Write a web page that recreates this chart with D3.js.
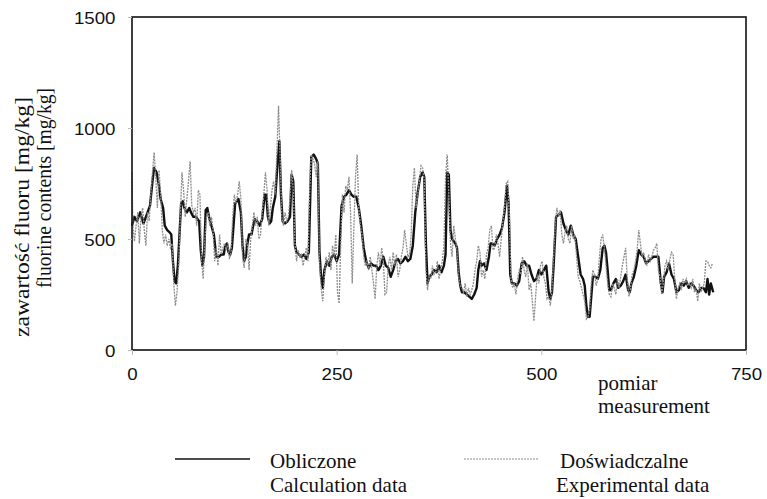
<!DOCTYPE html>
<html>
<head>
<meta charset="utf-8">
<title>fluorine contents</title>
<script src="https://d3js.org/d3.v7.min.js"></script>
<style>
  body { margin: 0; background: #fff; }
  .tick text { font-family: "Liberation Sans", Arial, sans-serif; font-size: 17px; fill: #111; }
  .serif { font-family: "Liberation Serif", "Times New Roman", serif; fill: #111; }
</style>
</head>
<body>
<svg id="chart" width="767" height="499"></svg>
<script>
// axis ticks
var xTicks = [0, 250, 500, 750];
var yTicks = [0, 500, 1000, 1500];

// Obliczone / Calculation data: measurement no. and value [mg/kg]
var calcM = [0,3,6,10,14,18,22,25,27,30,33,35,38,40,43,46,48,50,52,54,56,58,60,62,64,67,70,72,75,78,80,82,84,86,88,90,92,94,97,100,
  103,106,109,112,114,116,118,120,122,124,126,128,130,133,135,137,139,141,143,146,148,150,153,156,159,162,164,166,168,170,
  172,175,178,180,182,184,187,190,193,195,197,199,201,204,207,210,213,216,219,222,225,227,229,231,233,235,238,241,244,247,
  250,253,256,259,262,265,268,271,274,277,280,283,286,289,292,295,298,301,304,307,310,313,316,319,322,325,328,331,334,337,
  340,343,346,349,352,355,357,359,361,363,366,369,372,375,378,381,383,385,387,389,391,393,395,397,399,401,403,406,409,412,
  415,418,421,423,425,427,430,433,436,438,440,443,446,449,452,455,458,460,462,464,467,470,473,476,479,482,485,488,491,494,
  497,500,503,506,509,511,513,515,518,521,524,527,530,533,536,539,542,545,548,551,553,555,557,559,561,563,566,569,572,575,
  577,579,581,583,585,588,591,594,597,600,603,606,608,610,613,616,619,622,625,628,631,634,637,640,643,646,648,650,653,656,
  659,662,665,668,671,674,677,680,683,686,689,692,695,698,701,703,705,707,710];
var calcV = [560,600,580,620,570,610,650,760,820,800,740,680,640,560,540,530,520,400,310,300,380,520,660,670,640,620,640,620,600,600,590,580,450,380,420,630,640,600,560,520,
  420,420,430,430,470,480,440,430,460,560,660,670,680,620,470,400,420,480,520,520,560,590,580,560,590,700,700,600,570,580,
  640,690,850,940,700,580,570,580,600,790,760,470,440,430,420,430,410,440,870,880,860,840,440,330,280,360,400,380,420,430,
  400,430,650,690,700,720,700,690,690,640,560,460,400,370,390,380,380,360,380,420,380,370,330,360,400,410,390,400,420,400,
  410,470,620,710,780,800,780,480,300,330,340,360,350,380,350,380,430,800,790,540,500,490,480,460,350,290,260,260,250,240,
  230,250,280,360,400,380,390,360,420,480,480,470,500,520,550,620,740,660,340,300,300,290,310,390,400,380,380,340,310,320,
  360,340,360,380,260,230,260,380,600,610,620,570,540,520,560,520,500,420,340,320,290,200,150,150,240,330,330,320,360,460,
  470,440,360,270,270,300,320,280,290,310,340,270,260,300,330,380,450,430,420,390,400,410,420,420,420,300,260,330,350,390,
  340,320,260,270,300,290,310,280,300,290,270,260,280,280,260,320,250,300,260];

// Doświadczalne / Experimental data
var expM = [0,1,3,5,7,9,11,13,15,17,19,21,23,25,27,29,31,33,35,37,39,41,43,45,47,49,51,53,55,57,59,61,63,65,67,69,71,73,75,77,
  79,81,83,85,87,89,91,93,95,97,99,101,103,105,107,109,111,113,115,117,119,121,123,125,127,129,131,133,135,137,139,141,143,145,147,149,151,153,155,157,
  159,161,163,165,167,169,171,173,175,177,179,181,183,185,187,189,191,193,195,197,199,201,203,205,207,209,211,213,215,217,219,221,223,225,227,229,231,233,235,237,
  239,241,243,245,247,249,251,253,255,257,259,261,263,265,267,269,271,273,275,277,279,281,283,285,287,289,291,293,295,297,299,301,303,305,307,309,311,313,315,317,
  319,321,323,325,327,329,331,333,335,337,339,341,343,345,347,349,351,353,355,357,359,361,363,365,367,369,371,373,375,377,379,381,383,385,387,389,391,393,395,397,
  399,401,403,405,407,409,411,413,415,417,419,421,423,425,427,429,431,433,435,437,439,441,443,445,447,449,451,453,455,457,459,461,463,465,467,469,471,473,475,477,
  479,481,483,485,487,489,491,493,495,497,499,501,503,505,507,509,511,513,515,517,519,521,523,525,527,529,531,533,535,537,539,541,543,545,547,549,551,553,555,557,
  559,561,563,565,567,569,571,573,575,577,579,581,583,585,587,589,591,593,595,597,599,601,603,605,607,609,611,613,615,617,619,621,623,625,627,629,631,633,635,637,
  639,641,643,645,647,649,651,653,655,657,659,661,663,665,667,669,671,673,675,677,679,681,683,685,687,689,691,693,695,697,699,701,703,705,707,709];
var expV = [800,560,490,560,620,480,600,640,540,470,620,580,700,800,890,780,640,810,700,540,480,520,470,500,460,480,300,200,260,380,600,800,720,600,680,760,850,650,620,640,
  560,720,700,400,320,500,600,620,560,600,540,400,460,380,520,430,460,480,450,480,410,440,600,700,660,700,760,680,420,370,500,480,360,500,560,620,560,600,500,520,
  620,700,800,720,560,640,720,760,700,900,1100,860,600,560,620,580,600,680,810,720,480,400,450,420,430,380,420,460,400,720,880,860,840,780,850,400,280,220,330,420,
  380,440,360,470,420,520,260,210,480,700,620,740,720,780,620,300,550,780,880,640,560,520,420,380,400,360,420,360,300,230,380,440,380,460,400,250,260,380,420,360,
  440,380,430,330,360,420,460,540,480,420,430,520,740,820,640,700,760,830,820,760,360,270,340,320,380,340,350,400,320,360,400,470,780,880,700,480,420,560,500,450,
  330,290,280,260,300,240,280,250,270,300,360,400,470,440,330,360,320,430,460,540,560,450,460,520,480,420,500,580,640,750,760,600,320,280,300,250,320,360,340,420,
  360,330,390,270,300,220,130,240,340,300,380,400,330,300,230,240,200,280,420,560,640,600,630,520,480,530,560,500,480,560,500,520,420,330,310,280,250,220,140,150,
  180,300,360,340,290,320,420,500,520,460,380,300,250,240,300,280,250,320,280,330,380,420,460,320,240,280,340,360,400,450,540,480,420,440,400,380,430,400,420,450,
  460,480,360,330,250,300,380,400,360,410,440,430,320,230,280,300,270,320,300,320,290,300,280,320,260,280,220,300,260,280,300,400,400,380,370,390];

var svg = d3.select("#chart");
var plotL = 132, plotR = 746, plotT = 17, plotB = 350;

var x = d3.scaleLinear().domain([0, 750]).range([plotL, plotR]);
var y = d3.scaleLinear().domain([0, 1500]).range([plotB, plotT]);

var line = d3.line()
  .x(function(d) { return x(d[0]); })
  .y(function(d) { return y(d[1]); });

var expData = expM.map(function(m, i) { return [m, expV[i]]; });
var calcData = calcM.map(function(m, i) { return [m, calcV[i]]; });

svg.append("path")
  .datum(calcData)
  .attr("fill", "none")
  .attr("stroke", "#111")
  .attr("stroke-width", 2.4)
  .attr("stroke-linejoin", "round")
  .attr("d", line);

svg.append("path")
  .datum(expData)
  .attr("fill", "none")
  .attr("stroke", "#8c8c8c")
  .attr("stroke-width", 1.3)
  .attr("stroke-dasharray", "2,1")
  .attr("d", line);

// frame
svg.append("rect")
  .attr("x", plotL).attr("y", plotT)
  .attr("width", plotR - plotL).attr("height", plotB - plotT)
  .attr("fill", "none").attr("stroke", "#111").attr("stroke-width", 1.6);

var xAxis = svg.append("g")
  .attr("transform", "translate(0," + plotB + ")")
  .call(d3.axisBottom(x).tickValues(xTicks).tickSize(5).tickPadding(13).tickFormat(d3.format("d")));
var yAxis = svg.append("g")
  .attr("transform", "translate(" + plotL + ",0)")
  .call(d3.axisLeft(y).tickValues(yTicks).tickSize(4).tickPadding(11).tickFormat(d3.format("d")));

[xAxis, yAxis].forEach(function(g) {
  g.select(".domain").remove();
  g.selectAll(".tick line").attr("stroke", "#bbb");
  g.selectAll(".tick text").attr("transform", "scale(1.1,1)");
});
yAxis.selectAll(".tick text").attr("dy", "0.36em");

// axis titles
svg.append("text").attr("class", "serif")
  .attr("transform", "translate(29,217) rotate(-90)")
  .attr("text-anchor", "middle").attr("font-size", 20)
  .attr("textLength", 240).attr("lengthAdjust", "spacingAndGlyphs")
  .text("zawartość fluoru [mg/kg]");
svg.append("text").attr("class", "serif")
  .attr("transform", "translate(51,188) rotate(-90)")
  .attr("text-anchor", "middle").attr("font-size", 20)
  .attr("textLength", 200).attr("lengthAdjust", "spacingAndGlyphs")
  .text("fluorine contents [mg/kg]");

svg.append("text").attr("class", "serif")
  .attr("x", 598).attr("y", 390).attr("font-size", 21)
  .text("pomiar");
svg.append("text").attr("class", "serif")
  .attr("x", 598).attr("y", 413).attr("font-size", 21)
  .text("measurement");

// legend
var legend = [
  { x1: 175, x2: 250, tx: 270, l1: "Obliczone", l2: "Calculation data", stroke: "#111", w: 1.6, dash: null },
  { x1: 464, x2: 539, tx: 560, l1: "Doświadczalne", l2: "Experimental data", stroke: "#8c8c8c", w: 1.2, dash: "2,1" }
];
var lg = svg.selectAll(".lg").data(legend).enter().append("g");
lg.append("line")
  .attr("x1", function(d) { return d.x1; }).attr("x2", function(d) { return d.x2; })
  .attr("y1", 459).attr("y2", 459)
  .attr("stroke", function(d) { return d.stroke; })
  .attr("stroke-width", function(d) { return d.w; })
  .attr("stroke-dasharray", function(d) { return d.dash; });
lg.append("text").attr("class", "serif")
  .attr("x", function(d) { return d.tx; }).attr("y", 468).attr("font-size", 21)
  .text(function(d) { return d.l1; });
lg.append("text").attr("class", "serif")
  .attr("x", function(d) { return d.tx - 4 * (d.tx > 400); }).attr("y", 492).attr("font-size", 21)
  .text(function(d) { return d.l2; });
</script>
</body>
</html>
